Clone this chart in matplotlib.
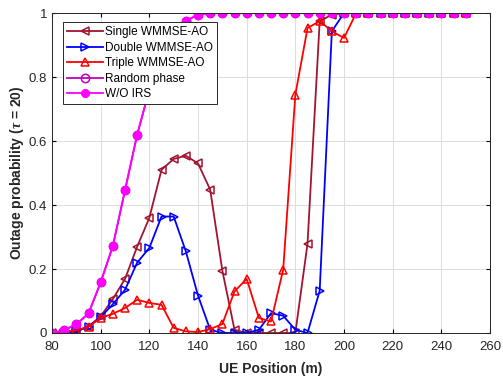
import numpy as np
import matplotlib
matplotlib.use("Agg")
import matplotlib.pyplot as plt
from matplotlib.ticker import FuncFormatter

plt.rcParams["font.family"] = ["Liberation Sans", "DejaVu Sans"]
plt.rcParams["mathtext.fontset"] = "custom"
plt.rcParams["mathtext.it"] = "Liberation Serif:italic:bold"

# ============ 数据 ============
ue_pos = list(range(80, 255, 5))

single_ao = [0, 0, 0.005, 0.02, 0.052, 0.106, 0.169, 0.27, 0.36, 0.51,
             0.544, 0.554, 0.53, 0.448, 0.195, 0.01, 0, 0, 0, 0,
             0, 0.279, 0.974, 0.995, 1, 1, 1, 1, 1, 1,
             1, 1, 1, 1, 1]
double_ao = [0, 0, 0.005, 0.02, 0.05, 0.09, 0.135, 0.22, 0.266, 0.364,
             0.364, 0.255, 0.117, 0.01, 0, 0, 0, 0.01, 0.062, 0.054,
             0.01, 0, 0.132, 0.943, 1, 1, 1, 1, 1, 1,
             1, 1, 1, 1, 1]
triple_ao = [0, 0.005, 0.008, 0.02, 0.047, 0.06, 0.078, 0.104, 0.094, 0.088,
             0.016, 0.005, 0.003, 0.012, 0.028, 0.13, 0.169, 0.047, 0.036, 0.198,
             0.745, 0.953, 0.975, 0.943, 0.922, 1, 1, 1, 1, 1,
             1, 1, 1, 1, 1]
random_phase = [0, 0.009, 0.027, 0.061, 0.158, 0.272, 0.446, 0.62, 0.76, 0.87,
                0.94, 0.975, 0.995, 1, 1, 1, 1, 1, 1, 1,
                1, 1, 1, 1, 1, 1, 1, 1, 1, 1,
                1, 1, 1, 1, 1]
wo_irs = random_phase

fig = plt.figure(figsize=(5.03, 3.8), dpi=100)
ax = fig.add_axes([0.1034, 0.1237, 0.8708, 0.842])

ax.plot(ue_pos, single_ao, color="#A2142F", lw=1.3, marker="<", ms=6,
        mfc="none", mew=1.1, label="Single WMMSE-AO")
ax.plot(ue_pos, double_ao, color="#0000FF", lw=1.3, marker=">", ms=6,
        mfc="none", mew=1.1, label="Double WMMSE-AO")
ax.plot(ue_pos, triple_ao, color="#FF0000", lw=1.3, marker="^", ms=6,
        mfc="none", mew=1.1, label="Triple WMMSE-AO")
ax.plot(ue_pos, random_phase, color="#C000C0", lw=1.3, marker="o", ms=6,
        mfc="none", mew=1.1, label="Random phase")
ax.plot(ue_pos, wo_irs, color="#FF00FF", lw=1.3, marker=(8, 2, 0), ms=6,
        mew=2.2, label="W/O IRS")

ax.set_xlim(80, 260)
ax.set_ylim(0, 1)
ax.set_xticks(range(80, 261, 20))
ax.set_yticks(np.arange(0, 1.01, 0.2))
ax.yaxis.set_major_formatter(FuncFormatter(lambda v, p: "%g" % round(v, 1)))
ax.tick_params(direction="in", top=True, right=True, labelsize=9.5, length=3,
               labelcolor="#262626")
ax.tick_params(axis="x", pad=6)
ax.grid(True, color="#DDDDDD", lw=0.7)
for s in ax.spines.values():
    s.set_linewidth(0.7)
    s.set_color("#262626")

ax.set_xlabel("UE Position (m)", fontsize=10, fontweight="bold", labelpad=6,
              color="#262626")
ax.set_ylabel(r"Outage probability ($\tau$ = 20)", fontsize=10,
              fontweight="bold", labelpad=2, color="#262626")

leg = ax.legend(loc="upper left", bbox_to_anchor=(0.025, 0.972), fontsize=8.5,
                frameon=True, fancybox=False, edgecolor="#262626",
                framealpha=1, handlelength=3.0, labelspacing=0.3,
                borderpad=0.35, handletextpad=0.25, borderaxespad=0)
leg.get_frame().set_linewidth(0.7)

plt.savefig("out.png", dpi=100, facecolor="white")
plt.close()
